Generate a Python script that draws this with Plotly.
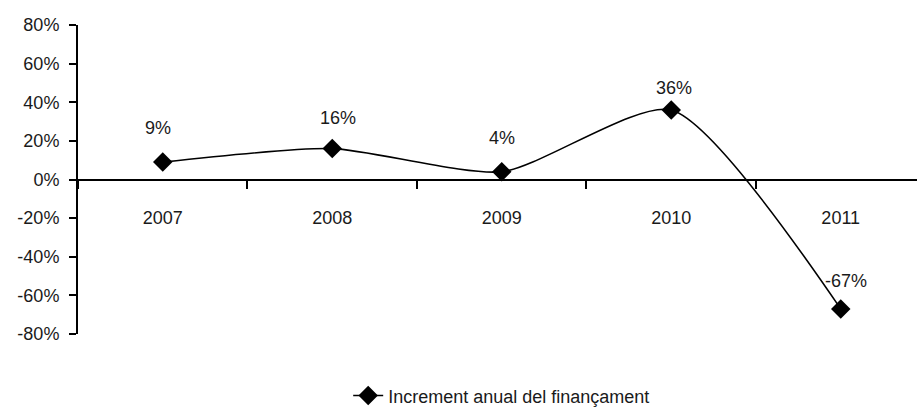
import plotly.graph_objects as go

# Annual change in financing, by year
years = ["2007", "2008", "2009", "2010", "2011"]
increment = [0.09, 0.16, 0.04, 0.36, -0.67]
value_labels = ["9%", "16%", "4%", "36%", "-67%"]

y_tickvals = [-0.8, -0.6, -0.4, -0.2, 0.0, 0.2, 0.4, 0.6, 0.8]
y_ticktext = ["-80%", "-60%", "-40%", "-20%", "0%", "20%", "40%", "60%", "80%"]

series_name = "Increment anual del finançament"

# Pixel offsets of the value labels relative to each point
label_yshift = [34, 31, 34, 22, 28]
label_xshift = [-5, 6, 0, 3, 5]

FONT = "Liberation Sans"
FS = 18
TXT = "#1a1a1a"

# years are laid out as evenly spaced slots 0..n-1
slots = list(range(len(years)))

fig = go.Figure()
fig.add_trace(go.Scatter(
    x=slots,
    y=increment,
    mode="lines+markers",
    name=series_name,
    line=dict(color="#000000", width=1.6, shape="spline", smoothing=0.65),
    marker=dict(symbol="diamond", size=15, color="#000000"),
    cliponaxis=False,
))

for xi, v, txt, dy, dx in zip(slots, increment, value_labels, label_yshift, label_xshift):
    fig.add_annotation(
        xref="x", yref="y",
        x=xi, y=v, text=txt, showarrow=False,
        yshift=dy, xshift=dx,
        font=dict(family=FONT, size=FS, color=TXT),
    )

fig.update_layout(
    width=917, height=409,
    margin=dict(l=78, r=0, t=25, b=75, autoexpand=False),
    paper_bgcolor="white",
    plot_bgcolor="white",
    font=dict(family=FONT, size=FS, color=TXT),
    showlegend=True,
    legend=dict(
        orientation="h",
        x=0.505, xanchor="center", xref="paper",
        y=-0.2, yanchor="middle", yref="paper",
        font=dict(family=FONT, size=FS, color=TXT),
        bgcolor="rgba(0,0,0,0)",
    ),
    xaxis=dict(
        type="linear",
        range=[-0.5, 4.45],
        anchor="free",
        position=0.5,
        automargin=False,
        showline=True,
        linecolor="#000000",
        linewidth=2,
        tickmode="array",
        tickvals=slots,
        ticktext=years,
        ticks="",
        minor=dict(tick0=0.5, dtick=1, ticks="outside", ticklen=8,
                   tickwidth=1.5, tickcolor="#000000", showgrid=False),
        showgrid=False,
        zeroline=False,
        ticklabelstandoff=22,
        tickfont=dict(family=FONT, size=FS, color=TXT),
    ),
    yaxis=dict(
        range=[-0.8, 0.8],
        automargin=False,
        tickvals=y_tickvals,
        ticktext=y_ticktext,
        showline=True,
        linecolor="#000000",
        linewidth=2,
        ticks="outside",
        ticklen=7,
        tickwidth=1.5,
        tickcolor="#000000",
        showgrid=False,
        zeroline=False,
        ticklabelstandoff=6,
        tickfont=dict(family=FONT, size=FS, color=TXT),
    ),
)

fig.write_html("out.html", config={"displayModeBar": False})
